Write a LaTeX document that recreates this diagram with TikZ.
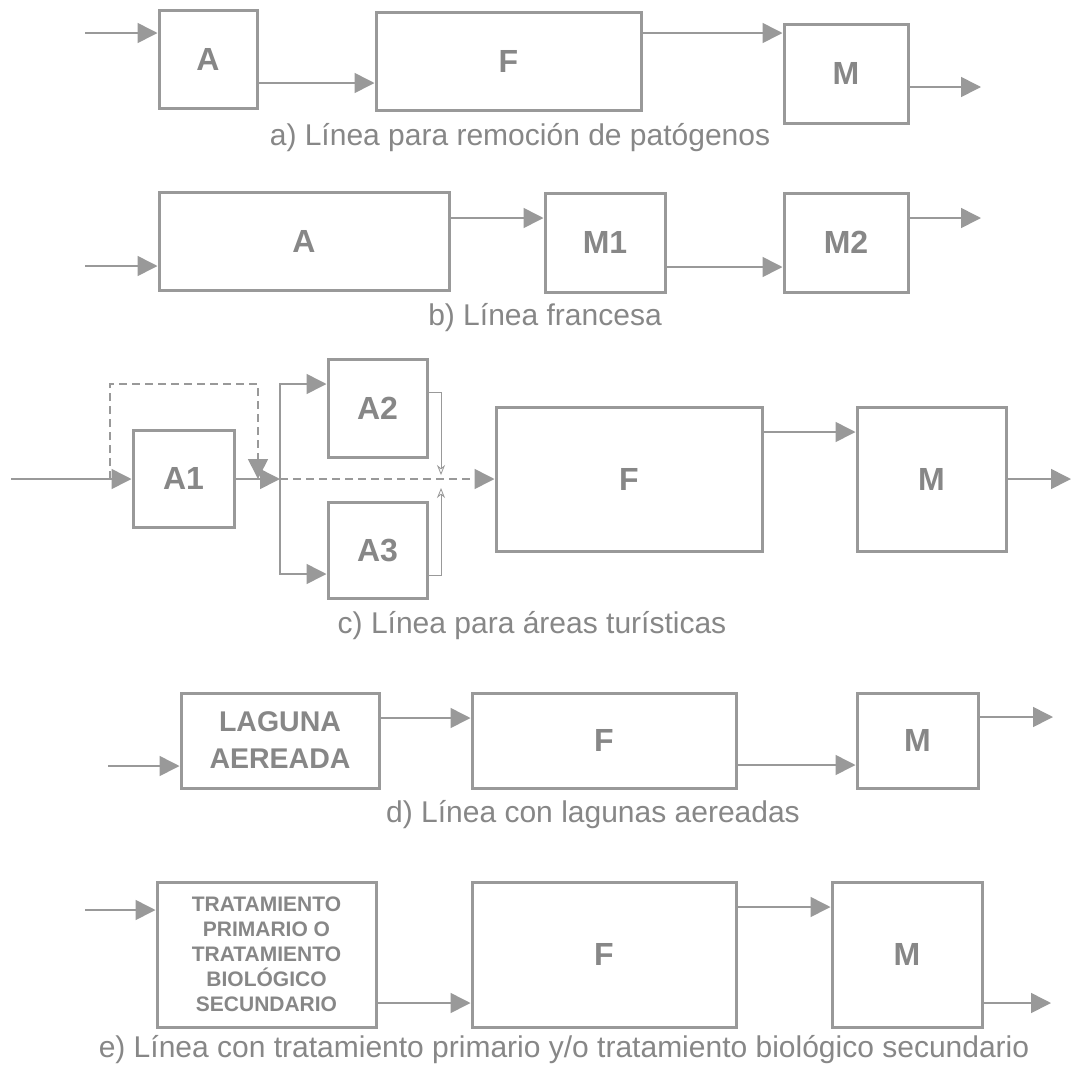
\documentclass[tikz,border=0pt]{standalone}
\usepackage{fontspec}
\setmainfont{Liberation Sans}
\usetikzlibrary{arrows.meta}

\definecolor{linegray}{gray}{0.6}
\definecolor{textgray}{gray}{0.53}

\tikzset{
  blk/.style={draw=linegray, line width=3pt, fill=white, inner sep=0pt,
    text=textgray, font=\fontsize{32}{36}\selectfont\bfseries},
  flow/.style={draw=linegray, line width=1.6pt, -{Triangle[length=20pt,width=20pt]}},
  bypass/.style={flow, dash pattern=on 8pt off 5pt},
  back/.style={draw=linegray, line width=0.8pt, -{Stealth[open,length=10pt,width=8pt]}},
  caption/.style={text=textgray, font=\fontsize{30}{35}\selectfont},
}

\begin{document}
\begin{tikzpicture}[x=1pt,y=-1pt]
  \useasboundingbox[fill=white] (0,0) rectangle (1072,1069);

  % a) pathogen removal
  \node[blk, minimum width=98, minimum height=98] (aA) at (208,59) {A};
  \node[blk, minimum width=265, minimum height=98] (aF) at (508.5,61) {F};
  \node[blk, minimum width=124, minimum height=99] (aM) at (846,73.5) {M};
  \coordinate (aIn) at (85,33);
  \coordinate (aOut) at (981,87);
  \draw[flow] (aIn) -- (aA.west |- aIn);
  \draw[flow] (aA.east |- 0,83) -- (aF.west |- 0,83);
  \draw[flow] (aF.east |- 0,33) -- (aM.west |- 0,33);
  \draw[flow] (aM.east |- aOut) -- (aOut);
  \node[caption] (aCap) at (520,138) {a) Línea para remoción de patógenos};

  % b) french line
  \node[blk, minimum width=290, minimum height=98] (bA) at (304,241) {A};
  \node[blk, minimum width=120, minimum height=99] (bM1) at (605,242.5) {M1};
  \node[blk, minimum width=124, minimum height=99] (bM2) at (846,242.5) {M2};
  \coordinate (bIn) at (85,266);
  \coordinate (bOut) at (981,218);
  \draw[flow] (bIn) -- (bA.west |- bIn);
  \draw[flow] (bA.east |- 0,218) -- (bM1.west |- 0,218);
  \draw[flow] (bM1.east |- 0,267) -- (bM2.west |- 0,267);
  \draw[flow] (bM2.east |- bOut) -- (bOut);
  \node[caption] (bCap) at (545,318) {b) Línea francesa};

  % c) tourist areas
  \node[blk, minimum width=101, minimum height=97] (cA1) at (183.5,478.5) {A1};
  \node[blk, minimum width=99, minimum height=98] (cA2) at (377.5,408) {A2};
  \node[blk, minimum width=99, minimum height=96] (cA3) at (377.5,550) {A3};
  \node[blk, minimum width=266, minimum height=144] (cF) at (629,479) {F};
  \node[blk, minimum width=149, minimum height=144] (cM) at (931.5,479) {M};
  \coordinate (cIn) at (11,479);
  \coordinate (cSplit) at (280,479);
  \coordinate (cOut) at (1071,479);
  \draw[flow] (cIn) -- (cA1.west |- cIn);
  \draw[bypass] (110,479) -- (110,384) -- (258,384) -- (258,479);
  \draw[flow] (cA1.east |- cSplit) -- (cSplit);
  \draw[flow] (cSplit) |- (cA2.west |- 0,384);
  \draw[flow] (cSplit) |- (cA3.west |- 0,574);
  \draw[bypass] (cSplit) -- (cF.west |- cSplit);
  \draw[back] (cA2.east |- 0,392) -| (441,475);
  \draw[back] (cA3.east |- 0,575) -| (441,488);
  \draw[flow] (cF.east |- 0,432) -- (cM.west |- 0,432);
  \draw[flow] (cM.east |- cOut) -- (cOut);
  \node[caption] (cCap) at (532,626) {c) Línea para áreas turísticas};

  % d) aerated lagoons
  \node[blk, minimum width=198, minimum height=95, align=center,
    font=\fontsize{28.5}{37}\selectfont\bfseries] (dL) at (280,740.5) {LAGUNA\\AEREADA};
  \node[blk, minimum width=264, minimum height=95] (dF) at (604,740.5) {F};
  \node[blk, minimum width=121, minimum height=95] (dM) at (917.5,740.5) {M};
  \coordinate (dIn) at (108,766);
  \coordinate (dOut) at (1053,717);
  \draw[flow] (dIn) -- (dL.west |- dIn);
  \draw[flow] (dL.east |- 0,718) -- (dF.west |- 0,718);
  \draw[flow] (dF.east |- 0,765) -- (dM.west |- 0,765);
  \draw[flow] (dM.east |- dOut) -- (dOut);
  \node[caption] (dCap) at (593,815) {d) Línea con lagunas aereadas};

  % e) primary / secondary treatment
  \node[blk, minimum width=219, minimum height=145, align=center,
    font=\fontsize{21}{25}\selectfont\bfseries] (eT) at (266.5,954.5)
    {TRATAMIENTO\\PRIMARIO O\\TRATAMIENTO\\BIOLÓGICO\\SECUNDARIO};
  \node[blk, minimum width=264, minimum height=145] (eF) at (604,954.5) {F};
  \node[blk, minimum width=150, minimum height=145] (eM) at (907,954.5) {M};
  \coordinate (eIn) at (85,910);
  \coordinate (eOut) at (1051,1003);
  \draw[flow] (eIn) -- (eT.west |- eIn);
  \draw[flow] (eT.east |- 0,1003) -- (eF.west |- 0,1003);
  \draw[flow] (eF.east |- 0,907) -- (eM.west |- 0,907);
  \draw[flow] (eM.east |- eOut) -- (eOut);
  \node[caption] (eCap) at (564,1050) {e) Línea con tratamiento primario y/o tratamiento biológico secundario};
\end{tikzpicture}
\end{document}
